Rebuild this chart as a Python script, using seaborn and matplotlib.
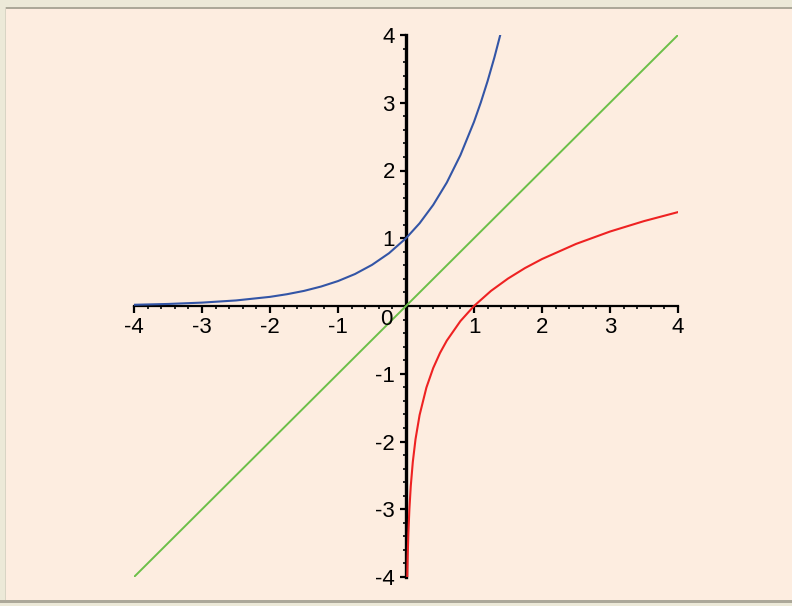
import matplotlib
matplotlib.use("Agg")
import matplotlib.pyplot as plt
from matplotlib.ticker import MultipleLocator, FixedLocator
from matplotlib.patches import Rectangle
import seaborn as sns
import pandas as pd

# Blue curve
blue_x = [-4, -3.5, -3, -2.5, -2, -1.75, -1.5, -1.25, -1, -0.75, -0.5, -0.25, 0,
          0.2, 0.4, 0.6, 0.8, 1.0, 1.1, 1.2, 1.3, 1.386]
blue_y = [0.018, 0.030, 0.050, 0.082, 0.135, 0.174, 0.223, 0.287, 0.368, 0.472, 0.607, 0.779, 1.0,
          1.221, 1.492, 1.822, 2.226, 2.718, 3.004, 3.320, 3.669, 4.0]

# Red curve
red_x = [0.0183, 0.025, 0.035, 0.05, 0.07, 0.1, 0.14, 0.2, 0.3, 0.4, 0.5, 0.6, 0.8, 1.0,
         1.25, 1.5, 1.75, 2.0, 2.5, 3.0, 3.5, 4.0]
red_y = [-4.0, -3.689, -3.352, -2.996, -2.659, -2.303, -1.966, -1.609, -1.204, -0.916, -0.693, -0.511,
         -0.223, 0.0, 0.223, 0.405, 0.560, 0.693, 0.916, 1.099, 1.253, 1.386]

# Green line
green_x = [-4, 4]
green_y = [-4, 4]

tick_values = [-4, -3, -2, -1, 1, 2, 3, 4]
tick_labels = ["-4", "-3", "-2", "-1", "1", "2", "3", "4"]

sns.set_style("white")
plt.rcParams['font.family'] = ['Liberation Sans', 'DejaVu Sans']

bg = "#FDEDE0"
fig = plt.figure(figsize=(7.92, 6.06), dpi=100, facecolor=bg)

# window frame decorations
W, H = 792, 606
def frect(x, y, w, h, c):
    fig.patches.append(Rectangle((x / W, 1 - (y + h) / H), w / W, h / H,
                                 transform=fig.transFigure, facecolor=c, edgecolor='none', zorder=-1))
frect(0, 0, W, 7, "#ECE9D8")
frect(0, 7, W, 2, "#ACA899")
frect(0, 0, 5, H, "#ECE9D8")
frect(5, 7, 1, 596, "#D8D4C4")
frect(0, 600, W, 3, "#ACA899")
frect(0, 603, W, 3, "#ECE9D8")

ax = fig.add_axes([134 / W, 29 / H, 544 / W, 542 / H])
ax.set_facecolor('none')

df_b = pd.DataFrame({"x": blue_x, "y": blue_y})
df_r = pd.DataFrame({"x": red_x, "y": red_y})
df_g = pd.DataFrame({"x": green_x, "y": green_y})

sns.lineplot(data=df_g, x="x", y="y", sort=False, ax=ax, color="#6CBF48", linewidth=1.4)
sns.lineplot(data=df_b, x="x", y="y", sort=False, ax=ax, color="#3355A6", linewidth=1.5)
sns.lineplot(data=df_r, x="x", y="y", sort=False, ax=ax, color="#EE2222", linewidth=1.5)

ax.set_xlim(-4, 4)
ax.set_ylim(-4, 4)
ax.set_xlabel("")
ax.set_ylabel("")

for s in ['top', 'right']:
    ax.spines[s].set_visible(False)
ax.spines['left'].set_position(('data', 0))
ax.spines['bottom'].set_position(('data', 0))
ax.spines['left'].set_linewidth(2.4)
ax.spines['bottom'].set_linewidth(1.6)
ax.spines['left'].set_color('black')
ax.spines['bottom'].set_color('black')
ax.spines['left'].set_zorder(1)
ax.spines['bottom'].set_zorder(1)

ax.xaxis.set_major_locator(FixedLocator(tick_values))
ax.yaxis.set_major_locator(FixedLocator(tick_values))
ax.set_xticklabels(tick_labels)
ax.set_yticklabels(tick_labels)
ax.xaxis.set_minor_locator(MultipleLocator(0.2))
ax.yaxis.set_minor_locator(MultipleLocator(0.2))

ax.tick_params(axis='x', which='major', direction='out', length=5, width=1.6, pad=3,
               labelsize=16, colors='black', bottom=True)
ax.tick_params(axis='x', which='minor', direction='out', length=2.5, width=1.4, bottom=True)
ax.tick_params(axis='y', which='major', direction='out', length=4, width=1.6, pad=4,
               labelsize=16, colors='black', left=True)
ax.tick_params(axis='y', which='minor', direction='out', length=2.5, width=1.4, left=True)

ax.annotate("0", xy=(0, 0), xytext=(-10, -2), textcoords='offset points',
            ha='right', va='top', fontsize=16, color='black')

fig.savefig("out.png", dpi=100, facecolor=bg)
